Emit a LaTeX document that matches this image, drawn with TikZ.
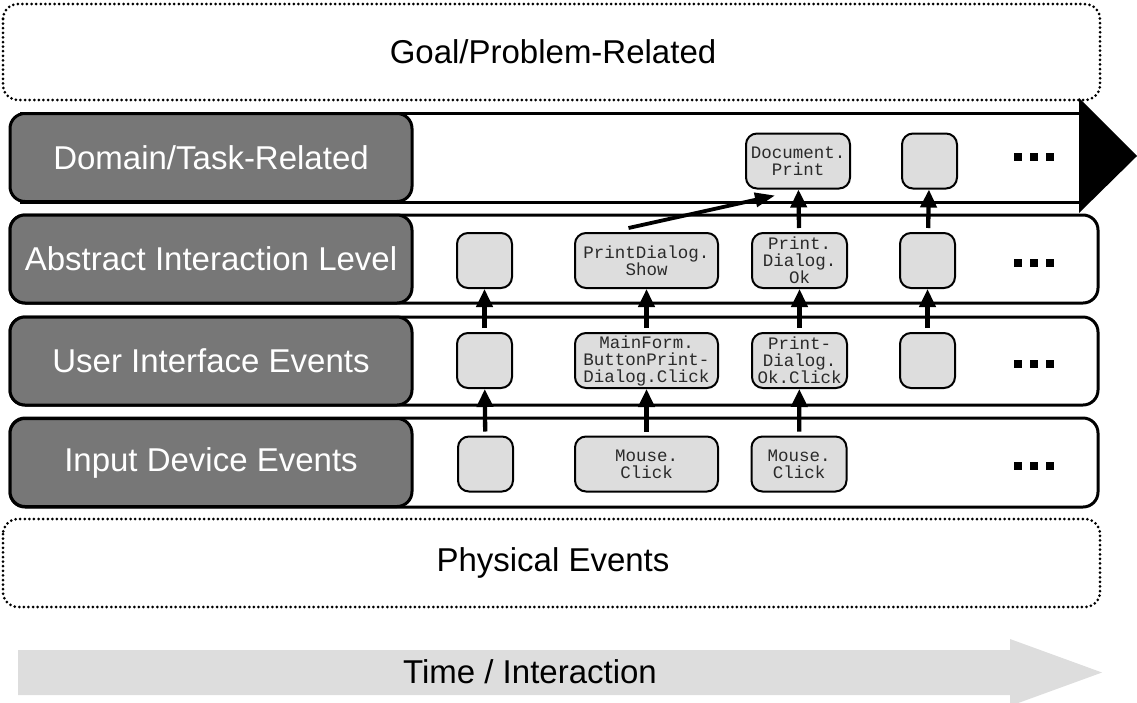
\documentclass[tikz,border=0pt]{standalone}
\usepackage{fontspec}
\setmainfont{Liberation Sans}
\newfontfamily\monof{Liberation Mono}
\usetikzlibrary{arrows.meta,calc}
\definecolor{labgray}{HTML}{777777}
\definecolor{evgray}{HTML}{DDDDDD}
\definecolor{evtext}{HTML}{2A2A2A}
\definecolor{timegray}{HTML}{DDDDDD}
\newcommand{\labfont}{\fontsize{33}{38}\selectfont}
\newcommand{\evfont}{\monof\fontsize{17.5}{17}\selectfont}
\tikzset{
  band/.style={draw=black, line width=3pt, fill=white, rounded corners=15pt},
  lab/.style={draw=black, line width=3pt, fill=labgray, rounded corners=15pt,
    text=white, font=\labfont, minimum width=402pt, minimum height=88pt, inner sep=0pt},
  ev/.style={draw=black, line width=2pt, fill=evgray, rounded corners=11pt,
    font=\evfont, text=evtext, align=center, inner sep=1pt, minimum height=55pt},
  uparr/.style={-{Triangle[length=18pt,width=16pt]}, line width=4.3pt, shorten <=4pt},
  dotbox/.style={line width=3pt, line cap=round, dash pattern=on 0pt off 4.6pt, rounded corners=15pt},
  dotsq/.style={fill=black, minimum size=8.5pt, inner sep=0pt},
  bigtext/.style={font=\labfont, text=black}
}
\begin{document}
\begin{tikzpicture}[x=1pt,y=-1pt]
\useasboundingbox (0,0) rectangle (1137,702);

% dotted outer boxes
\draw[dotbox] (3,4) rectangle (1100,100);
\node[bigtext] (goal) at (553,52) {Goal/Problem-Related};
\draw[dotbox] (3,519) rectangle (1100,607);
\node[bigtext] (phys) at (553,563) {Physical Events};

% time arrow
\fill[timegray] (18,650) -- (1010,650) -- (1010,639) -- (1102,672.5) -- (1010,706) -- (1010,695) -- (18,695) -- cycle;
\node[bigtext] (time) at (530,672) {Time / Interaction};

% domain band (arrow)
\draw[line width=3pt] (20,113) -- (1080,113);
\draw[line width=3pt] (20,202) -- (1080,202);
\fill[black] (1079,98) -- (1137,156) -- (1079,213) -- cycle;

% other bands
\draw[band] (10,215) rectangle (1098,303);
\draw[band] (10,317) rectangle (1098,405);
\draw[band] (10,418) rectangle (1098,507);

% label boxes
\node[lab] (ldom) at (211,157.5) {Domain/Task-Related};
\node[lab] (labs) at (211,259) {Abstract Interaction Level};
\node[lab] (lui)  at (211,361) {User Interface Events};
\node[lab] (lin)  at (211,462.5) {Input Device Events};

% domain row
\node[ev, minimum width=104pt] (dp) at (798,161) {Document.\\Print};
\node[ev, minimum width=55pt] (d2) at (929.5,161) {};

% abstract row
\node[ev, minimum width=55pt] (a1) at (484.5,260.5) {};
\node[ev, minimum width=143pt] (pds) at (646.5,260.5) {PrintDialog.\\Show};
\node[ev, minimum width=95pt] (pdo) at (799.5,260.5) {Print.\\Dialog.\\Ok};
\node[ev, minimum width=55pt] (a4) at (927.5,260.5) {};

% user row
\node[ev, minimum width=55pt] (u1) at (484.5,360.5) {};
\node[ev, minimum width=143pt] (mf) at (646.5,360.5) {MainForm.\\ButtonPrint-\\Dialog.Click};
\node[ev, minimum width=95pt] (pdoc) at (799.5,360.5) {Print-\\Dialog.\\Ok.Click};
\node[ev, minimum width=55pt] (u4) at (927.5,360.5) {};

% input row
\node[ev, minimum width=55pt] (i1) at (485.5,464) {};
\node[ev, minimum width=143pt] (m1) at (646.5,464) {Mouse.\\Click};
\node[ev, minimum width=95pt] (m2) at (799,464) {Mouse.\\Click};

% ellipsis squares
\foreach \y/\n in {157/d,263/a,364/u,466/i}{
  \node[dotsq] (\n s1) at (1018,\y) {};
  \node[dotsq] (\n s2) at (1034,\y) {};
  \node[dotsq] (\n s3) at (1050,\y) {};
}

% arrows
\draw[uparr] (i1) -- (u1);
\draw[uparr] (u1) -- (a1);
\draw[uparr] (m1) -- (mf);
\draw[uparr] (mf) -- (pds);
\draw[uparr] (m2) -- (pdoc);
\draw[uparr] (pdoc) -- (pdo);
\draw[uparr] (pdo) -- (dp);
\draw[uparr] (u4) -- (a4);
\draw[uparr] (a4) -- (d2);
\draw[-{Triangle[length=20pt,width=14pt]}, line width=3.8pt]
  ([xshift=-18pt,yshift=4pt]pds.north) -- ([xshift=-23pt,yshift=-6pt]dp.south);
\end{tikzpicture}
\end{document}
